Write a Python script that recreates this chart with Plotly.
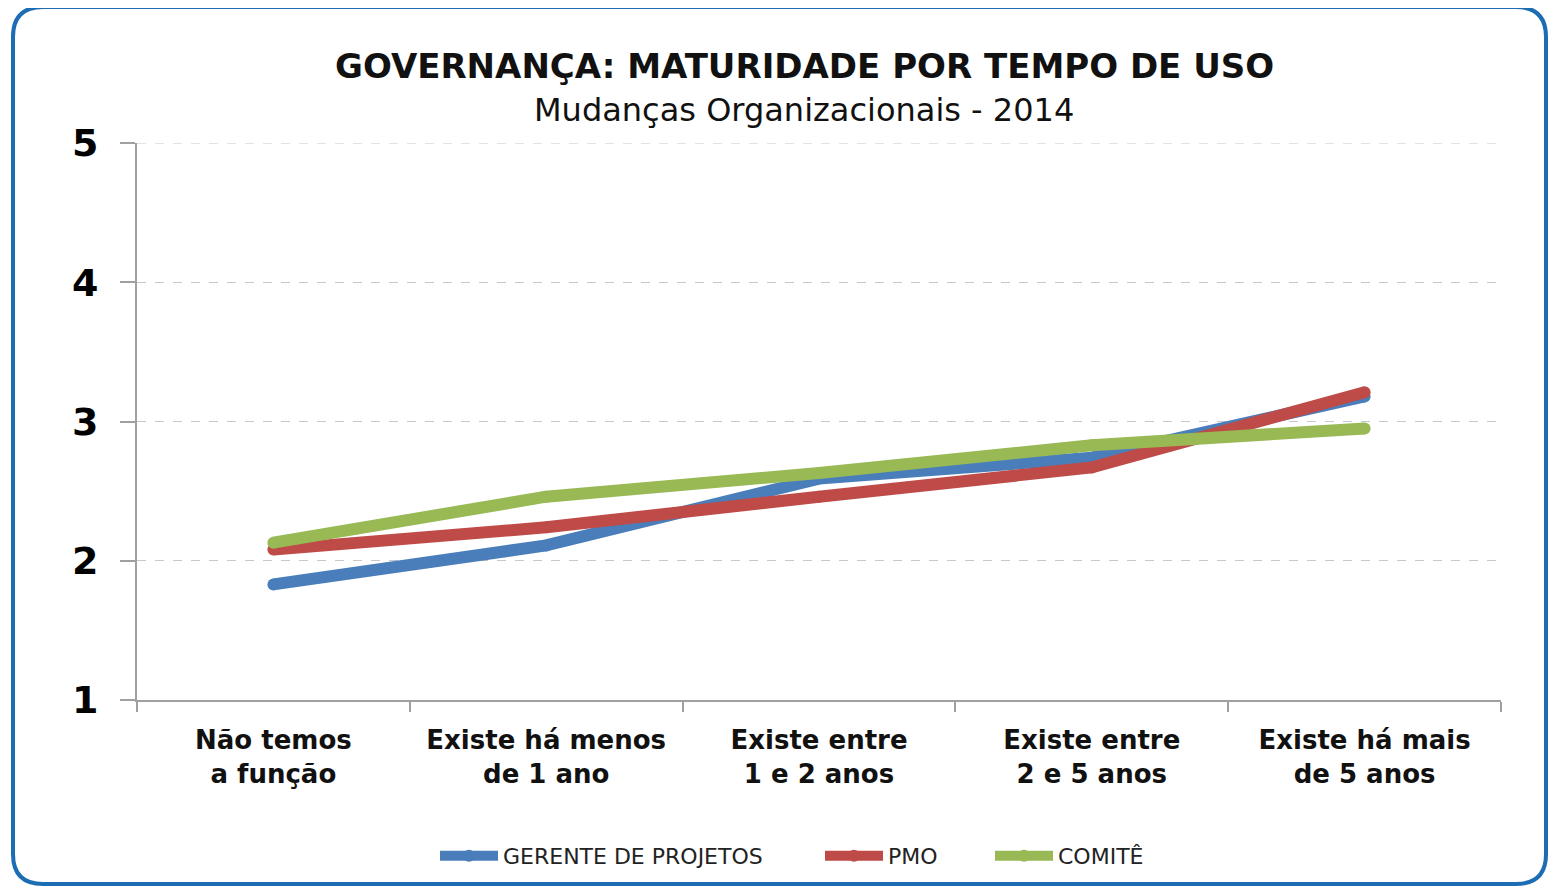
import plotly.graph_objects as go

categories = ["Não temos<br>a função", "Existe há menos<br>de 1 ano", "Existe entre<br>1 e 2 anos",
              "Existe entre<br>2 e 5 anos", "Existe há mais<br>de 5 anos"]
gerente = [1.83, 2.11, 2.59, 2.74, 3.18]
pmo = [2.08, 2.24, 2.46, 2.67, 3.21]
comite = [2.13, 2.46, 2.63, 2.83, 2.95]
series_names = ["GERENTE DE PROJETOS", "PMO", "COMITÊ"]
colors = ["#4A7EBB", "#BE4B48", "#98B954"]
y_ticks = [1, 2, 3, 4, 5]

OFF = 8  # page body margin
W, H = 1559 - OFF, 891 - OFF
L, T = 137 - OFF, 143 - OFF
R = W + OFF - 1501
B = H + OFF - 700
pw, ph = W - L - R, H - T - B

def px(x):
    return (x - OFF - L) / pw

def py(y):
    return (H - B - (y - OFF)) / ph

fig = go.Figure()
legend_keys = ["legend", "legend2", "legend3"]
for name, vals, col, lk in zip(series_names, [gerente, pmo, comite], colors, legend_keys):
    fig.add_trace(go.Scatter(
        x=categories, y=vals, name=name, mode="lines+markers", legend=lk,
        line=dict(color=col, width=12),
        marker=dict(color=col, size=12, line=dict(width=0)),
    ))

# top gridline at 5
fig.add_shape(type="line", xref="paper", yref="y", x0=0, x1=1, y0=5, y1=5,
              line=dict(color="#c8c8c8", width=1, dash="dash"), layer="below")

# rounded border
x0, x1, y0, y1, r = 13, 1546, 7, 884, 30
path = (f"M {px(x0+r)},{py(y0)} L {px(x1-r)},{py(y0)} Q {px(x1)},{py(y0)} {px(x1)},{py(y0+r)} "
        f"L {px(x1)},{py(y1-r)} Q {px(x1)},{py(y1)} {px(x1-r)},{py(y1)} "
        f"L {px(x0+r)},{py(y1)} Q {px(x0)},{py(y1)} {px(x0)},{py(y1-r)} "
        f"L {px(x0)},{py(y0+r)} Q {px(x0)},{py(y0)} {px(x0+r)},{py(y0)} Z")
fig.add_shape(type="path", path=path, xref="paper", yref="paper",
              line=dict(color="#1C6DB3", width=4), layer="below")

fig.add_annotation(text="<b>GOVERNANÇA: MATURIDADE POR TEMPO DE USO</b>", xref="paper", yref="paper",
                   x=px(804), y=py(66), showarrow=False, yanchor="middle", xanchor="center",
                   font=dict(family="DejaVu Sans", size=34, color="#111111"))
fig.add_annotation(text="Mudanças Organizacionais - 2014", xref="paper", yref="paper",
                   x=px(804), y=py(110), showarrow=False, yanchor="middle", xanchor="center",
                   font=dict(family="DejaVu Sans", size=32, color="#111111"))

leg_font = dict(family="DejaVu Sans", size=22, color="#222222")
leg_common = dict(orientation="h", yanchor="middle", y=py(856), xanchor="left",
                  font=leg_font, itemwidth=58, bgcolor="rgba(0,0,0,0)", borderwidth=0)
fig.update_layout(
    width=W, height=H,
    margin=dict(l=L, r=R, t=T, b=B),
    paper_bgcolor="white", plot_bgcolor="white",
    showlegend=True,
    legend=dict(x=px(435), **leg_common),
    legend2=dict(x=px(820), **leg_common),
    legend3=dict(x=px(990), **leg_common),
    xaxis=dict(range=[-0.5, 4.5], tickson="boundaries", ticks="outside", ticklen=10,
               tickcolor="#a0a0a0", tickwidth=2, showline=True, linecolor="#a0a0a0", linewidth=2,
               showgrid=False, ticklabelstandoff=16,
               tickfont=dict(family="DejaVu Sans", size=26, color="#111111", weight="bold")),
    yaxis=dict(range=[1, 5], tickvals=y_ticks, ticks="outside", ticklen=15, tickcolor="#a0a0a0",
               tickwidth=2, showline=True, linecolor="#a0a0a0", linewidth=2,
               showgrid=True, gridcolor="#c8c8c8", griddash="dash", gridwidth=1, zeroline=False,
               ticklabelstandoff=14,
               tickfont=dict(family="DejaVu Sans", size=38, color="#000000", weight="bold")),
)

fig.write_html("out.html")
